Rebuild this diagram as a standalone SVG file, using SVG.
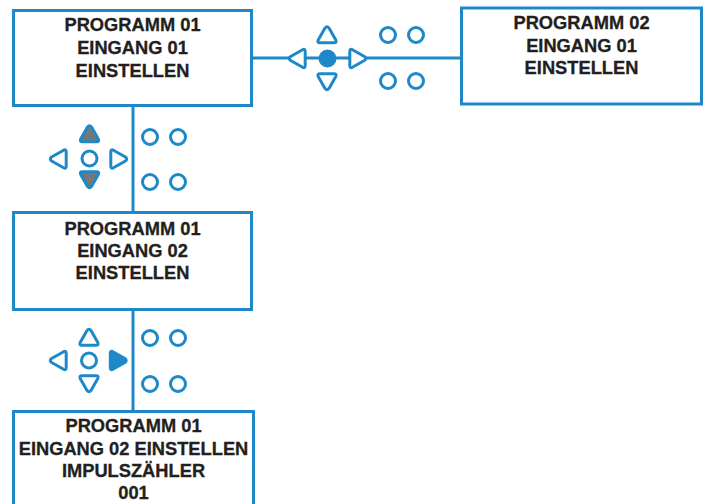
<svg xmlns="http://www.w3.org/2000/svg" width="704" height="504" viewBox="0 0 704 504">
<style>
.box{fill:#fff;stroke:#1e88c8;stroke-width:3}
.con{stroke:#1e88c8;stroke-width:3;fill:none}
.btn{fill:#fff;stroke:#1e88c8;stroke-width:3;stroke-linejoin:round}
.on{fill:#1e88c8}
.gray{fill:#777}
.t{font-family:"Liberation Sans",Arial,sans-serif;font-weight:bold;font-size:18.3px;fill:#231f20;stroke:#231f20;stroke-width:0.3;text-anchor:middle}
</style>
<defs>
<path id="up" d="M-2,-7.4 Q0,-10 2,-7.4 L8.8,4.6 Q10,7.2 7,7.2 L-7,7.2 Q-10,7.2 -8.8,4.6 Z"/>
<path id="down" d="M-2,7.4 Q0,10 2,7.4 L8.8,-4.6 Q10,-7.2 7,-7.2 L-7,-7.2 Q-10,-7.2 -8.8,-4.6 Z"/>
<path id="left" d="M-7.4,-2 Q-10,0 -7.4,2 L4.6,8.8 Q7.2,10 7.2,7 L7.2,-7 Q7.2,-10 4.6,-8.8 Z"/>
<path id="right" d="M7.4,-2 Q10,0 7.4,2 L-4.6,8.8 Q-7.2,10 -7.2,7 L-7.2,-7 Q-7.2,-10 -4.6,-8.8 Z"/>
</defs>
<g id="connectors">
<line class="con" x1="251" y1="58" x2="462" y2="58"/>
<line class="con" x1="133" y1="105" x2="133" y2="213"/>
<line class="con" x1="133" y1="309" x2="133" y2="412"/>
</g>
<g id="node1">
<rect class="box" x="13.5" y="10.5" width="238" height="95"/>
<text class="t" x="132.5" y="31">PROGRAMM 01</text>
<text class="t" x="132.5" y="54">EINGANG 01</text>
<text class="t" x="132.5" y="77">EINSTELLEN</text>
</g>
<g id="node2">
<rect class="box" x="461.5" y="8" width="240" height="96"/>
<text class="t" x="581.5" y="29">PROGRAMM 02</text>
<text class="t" x="581.5" y="52">EINGANG 01</text>
<text class="t" x="581.5" y="74">EINSTELLEN</text>
</g>
<g id="node3">
<rect class="box" x="13.5" y="212.5" width="238" height="97"/>
<text class="t" x="132.5" y="235">PROGRAMM 01</text>
<text class="t" x="132.5" y="257">EINGANG 02</text>
<text class="t" x="132.5" y="279">EINSTELLEN</text>
</g>
<g id="node4">
<rect class="box" x="13.5" y="411.5" width="240" height="100"/>
<text class="t" x="133.5" y="432">PROGRAMM 01</text>
<text class="t" x="133.5" y="455">EINGANG 02 EINSTELLEN</text>
<text class="t" x="133.5" y="477">IMPULSZÄHLER</text>
<text class="t" x="133.5" y="499">001</text>
</g>
<g id="keypad1">
<use href="#up" class="btn" x="327" y="35.5"/>
<use href="#down" class="btn" x="327" y="81"/>
<use href="#left" class="btn" x="298" y="58.5"/>
<use href="#right" class="btn" x="357" y="58.5"/>
<circle class="btn on" cx="327.5" cy="58.5" r="7.5"/>
<circle class="btn" cx="388" cy="35" r="7.5"/>
<circle class="btn" cx="416" cy="35" r="7.5"/>
<circle class="btn" cx="388" cy="81" r="7.5"/>
<circle class="btn" cx="416" cy="81" r="7.5"/>
</g>
<g id="keypad2">
<use href="#up" class="btn gray" x="89.5" y="134.5"/>
<use href="#down" class="btn gray" x="89.5" y="179"/>
<use href="#left" class="btn" x="59" y="159"/>
<use href="#right" class="btn" x="118" y="159"/>
<circle class="btn" cx="89.5" cy="158.5" r="7.5"/>
<circle class="btn" cx="150" cy="137" r="7.5"/>
<circle class="btn" cx="178" cy="137" r="7.5"/>
<circle class="btn" cx="150" cy="182" r="7.5"/>
<circle class="btn" cx="178" cy="182" r="7.5"/>
</g>
<g id="keypad3">
<use href="#up" class="btn" x="89" y="338"/>
<use href="#down" class="btn" x="89" y="383"/>
<use href="#left" class="btn" x="59" y="360.5"/>
<use href="#right" class="btn on" x="117.5" y="360.5"/>
<circle class="btn" cx="89" cy="360.5" r="7.5"/>
<circle class="btn" cx="150" cy="338" r="7.5"/>
<circle class="btn" cx="178" cy="338" r="7.5"/>
<circle class="btn" cx="150" cy="384" r="7.5"/>
<circle class="btn" cx="178" cy="384" r="7.5"/>
</g>
</svg>
